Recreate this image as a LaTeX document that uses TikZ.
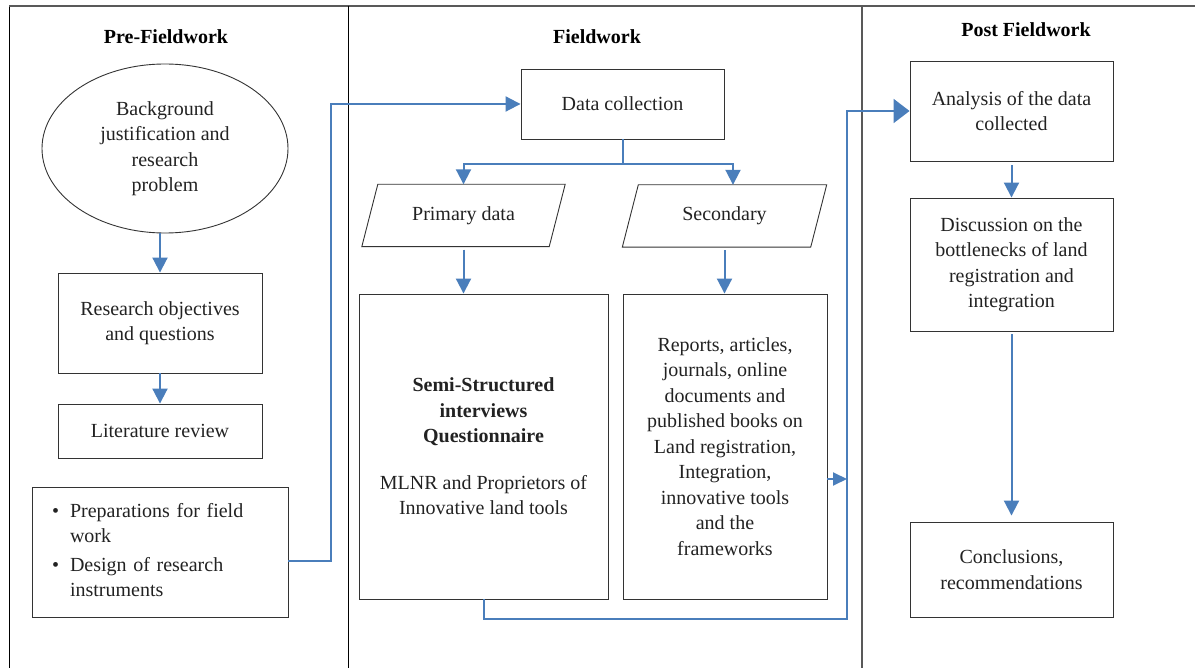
\documentclass[tikz,border=0pt]{standalone}
\usepackage{fontspec}
\setmainfont{Liberation Serif}
\usetikzlibrary{shapes.geometric,arrows.meta}
\definecolor{flowblue}{HTML}{4A7EBB}
\definecolor{inkgray}{HTML}{222222}
\begin{document}
\begin{tikzpicture}[x=1pt,y=-1pt,
  every node/.style={font=\fontsize{20}{25.5}\selectfont, text=inkgray},
  stepbox/.style={draw=black!80, line width=0.9pt, rectangle, align=center, inner sep=0pt},
  head/.style={font=\fontsize{20}{24}\selectfont\bfseries, text=black},
  flow/.style={draw=flowblue, line width=2pt},
  arr/.style={flow, -{Triangle[length=15pt,width=15pt]}},
  arrsmall/.style={flow, -{Triangle[length=14pt,width=13pt]}},
  arrbig/.style={flow, -{Triangle[length=16pt,width=24pt]}}]

\useasboundingbox (0,0) rectangle (1195,668);

% column frame
\draw[black, line width=1pt] (9,668) -- (9,6);
\draw[black!65, line width=2pt] (9,6) -- (1195,6);
\draw[black, line width=1pt] (348,6) -- (348,668);
\draw[black!65, line width=2.2pt] (862,6) -- (862,668);

% column headings
\node[head] (hpre) at (166,37) {Pre-Fieldwork};
\node[head] (hfw) at (597,37) {Fieldwork};
\node[head] (hpost) at (1026,30) {Post Fieldwork};

% pre-fieldwork
\node[stepbox, ellipse, minimum width=246, minimum height=169] (bg) at (165,148.5)
  {Background\\justification and\\research\\problem};
\node[stepbox, minimum width=204, minimum height=100] (obj) at (160,323)
  {Research objectives\\and questions};
\node[stepbox, minimum width=204, minimum height=54] (lit) at (160,431)
  {Literature review};
\node[stepbox, minimum height=130, text width=216, inner xsep=20pt, align=left] (prep) at (160,552)
  {\begin{tabular}{@{}l@{\hspace{11pt}}l@{}}
   \textbullet & Preparations for field\\
               & work\\[3pt]
   \textbullet & Design of research\\
               & instruments
   \end{tabular}};

% fieldwork
\node[stepbox, minimum width=203, minimum height=70] (dc) at (622.5,104) {Data collection};
\node[minimum width=187, minimum height=62, inner sep=0pt] (pd) at (463.5,215.5) {Primary data};
\node[minimum width=188, minimum height=62, inner sep=0pt] (sd) at (724.5,216) {Secondary};
\draw[black!80, line width=0.9pt] ([xshift=8]pd.north west) -- ([xshift=8]pd.north east)
  -- ([xshift=-8]pd.south east) -- ([xshift=-8]pd.south west) -- cycle;
\draw[black!80, line width=0.9pt] ([xshift=8]sd.north west) -- ([xshift=8]sd.north east)
  -- ([xshift=-8]sd.south east) -- ([xshift=-8]sd.south west) -- cycle;
\node[stepbox, minimum width=249, minimum height=305] (pbox) at (483.5,446.5)
  {\textbf{Semi-Structured}\\\textbf{interviews}\\\textbf{Questionnaire}\\[21pt]
   MLNR and Proprietors of\\Innovative land tools};
\node[stepbox, minimum width=204, minimum height=305] (sbox) at (725,446.5)
  {Reports, articles,\\journals, online\\documents and\\published books on\\Land registration,\\Integration,\\innovative tools\\and the\\frameworks};

% post fieldwork
\node[stepbox, minimum width=203, minimum height=100] (ana) at (1011.5,111)
  {Analysis of the data\\collected};
\node[stepbox, minimum width=203, minimum height=133] (disc) at (1011.5,264.5)
  {Discussion on the\\bottlenecks of land\\registration and\\integration};
\node[stepbox, minimum width=203, minimum height=95] (conc) at (1011.5,569.5)
  {Conclusions,\\recommendations};

% connectors
\draw[arr] (bg.south -| obj.north) -- (obj.north);
\draw[arr] (obj) -- (lit);

\coordinate (b1) at (331,561);
\draw[arr] (b1 -| prep.east) -- (b1) |- (dc.west);

\coordinate (fork) at (dc.south |- 0,164);
\draw[flow] (dc.south) -- (fork);
\draw[arr] (fork) -| (pd.north);
\draw[arr] (fork) -| ([xshift=8.5]sd.north);
\draw[arr, shorten <=3pt] (pd.south) -- (pd.south |- pbox.north);
\draw[arr, shorten <=3pt] (sd.south) -- (sd.south |- sbox.north);

\coordinate (c1) at (847,619);
\draw[arrbig] (pbox.south) |- (c1) |- (ana.west);
\coordinate (j) at (847,479);
\draw[arrsmall] (sbox.east |- j) -- (j);

\draw[arr, shorten <=4pt] (ana) -- (disc);
\draw[arr, shorten <=3pt, shorten >=6pt] (disc) -- (conc);
\end{tikzpicture}
\end{document}
